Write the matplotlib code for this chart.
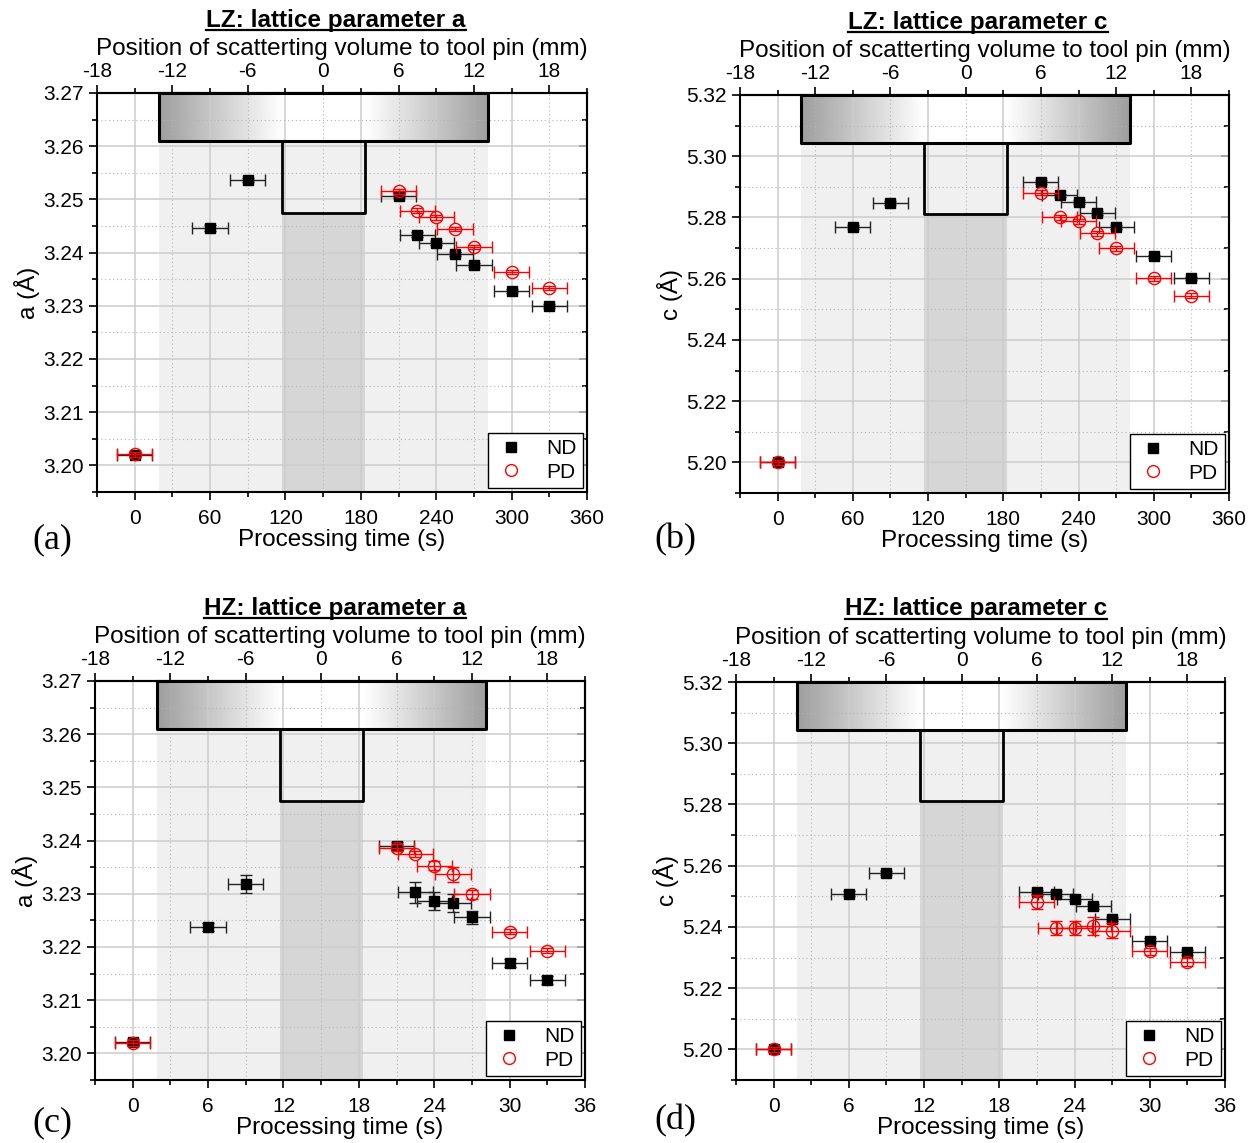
import numpy as np
import matplotlib.pyplot as plt
from matplotlib.lines import Line2D
from matplotlib.ticker import MultipleLocator, FixedLocator, FormatStrFormatter

plt.rcParams['font.family'] = ['Liberation Sans', 'DejaVu Sans']
plt.rcParams['axes.unicode_minus'] = False

# ---- data ----
t_lz_nd = [0, 60, 90, 210, 225, 240, 255, 270, 300, 330]
t_lz_pd = [0, 210, 225, 240, 255, 270, 300, 330]
a_lz_nd = [3.2020, 3.2446, 3.2536, 3.2506, 3.2434, 3.2418, 3.2398, 3.2376, 3.2328, 3.2299]
a_lz_pd = [3.2021, 3.2515, 3.2479, 3.2466, 3.2444, 3.2411, 3.2364, 3.2334]
a_lz_nd_err = [0.0005, 0.0006, 0.0004, 0.0004, 0.0004, 0.0004, 0.0004, 0.0004, 0.0004, 0.0004]
a_lz_pd_err = [0.0005, 0.0004, 0.0004, 0.0004, 0.0004, 0.0004, 0.0004, 0.0004]
c_lz_nd = [5.2000, 5.2769, 5.2848, 5.2915, 5.2872, 5.2850, 5.2814, 5.2769, 5.2673, 5.2601]
c_lz_pd = [5.2000, 5.2881, 5.2801, 5.2787, 5.2749, 5.2700, 5.2602, 5.2545]
c_lz_nd_err = [0.0006] * 10
c_lz_pd_err = [0.0008] * 8

t_hz_nd = [0, 6, 9, 21, 22.5, 24, 25.5, 27, 30, 33]
t_hz_pd = [0, 21, 22.5, 24, 25.5, 27, 30, 33]
a_hz_nd = [3.2022, 3.2238, 3.2319, 3.2390, 3.2303, 3.2286, 3.2282, 3.2256, 3.2170, 3.2138]
a_hz_pd = [3.2020, 3.2387, 3.2375, 3.2353, 3.2337, 3.2299, 3.2229, 3.2193]
a_hz_nd_err = [0.0006, 0.0007, 0.0017, 0.0008, 0.0020, 0.0017, 0.0017, 0.0012, 0.0007, 0.0007]
a_hz_pd_err = [0.0006, 0.0006, 0.0006, 0.0008, 0.0014, 0.0008, 0.0005, 0.0005]
c_hz_nd = [5.2000, 5.2508, 5.2576, 5.2514, 5.2508, 5.2492, 5.2467, 5.2426, 5.2355, 5.2317]
c_hz_pd = [5.2000, 5.2481, 5.2396, 5.2396, 5.2402, 5.2388, 5.2320, 5.2285]
c_hz_nd_err = [0.0008] * 10
c_hz_pd_err = [0.0008, 0.0024, 0.0024, 0.0024, 0.0030, 0.0024, 0.0012, 0.0012]

mm_ticks = [-18, -12, -6, 0, 6, 12, 18]

# tool geometry in mm (relative to tool pin centre)
shoulder_r = 13.1
pin_r = 3.3

W, H = 1256, 1143
fig = plt.figure(figsize=(W / 100, H / 100), dpi=100)

TICK_FS = 15
LABEL_FS = 17.5


def px_rect(l, t, r, b):
    return [l / W, 1 - b / H, (r - l) / W, (b - t) / H]


def panel(rect, t_nd, y_nd, e_nd, t_pd, y_pd, e_pd, scale, xerr, xmajor,
          ylim, ymajor, ylabel, title, title_xy, letter, letter_xy):
    ax = fig.add_axes(px_rect(*rect))
    to_mm = lambda t: np.asarray(t) / scale - 15
    to_t = lambda m: (np.asarray(m) + 15) * scale

    s0, s1 = to_t(-shoulder_r), to_t(shoulder_r)
    p0, p1 = to_t(-pin_r), to_t(pin_r)
    sh_y, pin_y = 0.88, 0.70

    # background shading of the tool
    ax.axvspan(s0, s1, color='#f0f0f0', lw=0, zorder=0)
    ax.axvspan(p0, p1, ymin=0, ymax=pin_y, color='#d6d6d6', lw=0, zorder=0.1)
    xs = np.linspace(-shoulder_r, shoulder_r, 400)
    g = np.clip((np.abs(xs) - pin_r) / (shoulder_r - pin_r), 0, 1)
    vals = 1 - 0.38 * g
    img = np.dstack([vals, vals, vals])
    ax.imshow(img, extent=(s0, s1, sh_y, 1), aspect='auto',
              transform=ax.get_xaxis_transform(), zorder=0.2, interpolation='bilinear')
    tr = ax.get_xaxis_transform()
    ax.plot([s0, s0, s1, s1, s0], [1, sh_y, sh_y, 1, 1], color='k', lw=2.2,
            transform=tr, zorder=2, clip_on=False)
    ax.plot([p0, p0, p1, p1], [sh_y, pin_y, pin_y, sh_y], color='k', lw=2.0,
            transform=tr, zorder=2, clip_on=False)

    # data
    ax.errorbar(t_nd, y_nd, xerr=xerr, yerr=e_nd, fmt='s', color='black', ms=7.8,
                ecolor='#222222', elinewidth=1.0, capsize=4, capthick=1.0, zorder=3)
    ax.errorbar(t_pd, y_pd, xerr=xerr, yerr=e_pd, fmt='o', mfc='none', mec='red',
                mew=1.0, ms=8.8, ecolor='red', elinewidth=1.0, capsize=4,
                capthick=1.0, zorder=4)

    ax.set_xlim(to_t(-18), to_t(21))
    ax.set_ylim(*ylim)
    ax.xaxis.set_major_locator(MultipleLocator(xmajor))
    ax.xaxis.set_minor_locator(MultipleLocator(xmajor / 2))
    ax.yaxis.set_major_locator(MultipleLocator(ymajor))
    ax.yaxis.set_minor_locator(MultipleLocator(ymajor / 2))
    ax.yaxis.set_major_formatter(FormatStrFormatter('%.2f'))
    ax.set_axisbelow(True)
    ax.grid(which='major', color='#cccccc', lw=1.1, ls='-')
    ax.grid(which='minor', color='#b4b4b4', lw=0.8, ls=(0, (1, 2.5)))
    ax.tick_params(which='both', direction='out', top=False, right=False,
                   labelsize=TICK_FS, width=1.2)
    ax.tick_params(which='major', length=6)
    ax.tick_params(which='minor', length=3.5)
    ax.tick_params(axis='x', which='major', pad=6)
    for sp in ax.spines.values():
        sp.set_linewidth(1.5)
    ax.set_xlabel('Processing time (s)', fontsize=LABEL_FS, labelpad=1)
    ax.set_ylabel(ylabel, fontsize=LABEL_FS, labelpad=2)

    top = ax.secondary_xaxis('top', functions=(to_mm, to_t))
    top.xaxis.set_major_locator(FixedLocator(mm_ticks))
    top.xaxis.set_minor_locator(FixedLocator([m + 3 for m in mm_ticks]))
    top.tick_params(which='both', direction='out', labelsize=TICK_FS, width=1.2)
    top.tick_params(which='major', length=6, pad=2.5)
    top.tick_params(which='minor', length=3.5)
    top.spines['top'].set_linewidth(1.5)
    top.set_xlabel('Position of scatterting volume to tool pin (mm)',
                   fontsize=LABEL_FS, labelpad=5)

    right = ax.secondary_yaxis('right')
    right.yaxis.set_major_locator(MultipleLocator(ymajor))
    right.yaxis.set_minor_locator(MultipleLocator(ymajor / 2))
    right.tick_params(which='both', direction='in', labelright=False, width=1.2)
    right.tick_params(which='major', length=6)
    right.tick_params(which='minor', length=3.5)
    right.spines['right'].set_linewidth(1.5)

    handles = [Line2D([], [], ls='none', marker='s', color='black', ms=7),
               Line2D([], [], ls='none', marker='o', mfc='none', mec='red', ms=8.5)]
    leg = ax.legend(handles, ['ND', 'PD'], loc='lower right', fontsize=15,
                    frameon=True, fancybox=False, framealpha=1, edgecolor='black',
                    borderaxespad=0.2, handletextpad=0.9, borderpad=0.3,
                    labelspacing=0.2, handlelength=1.6)
    leg.get_frame().set_linewidth(1.0)
    leg.set_zorder(5)

    t = fig.text(title_xy[0] / W, 1 - title_xy[1] / H, title, fontsize=LABEL_FS,
                 fontweight='bold', ha='center', va='center')
    fig.text(letter_xy[0] / W, 1 - letter_xy[1] / H, letter, fontsize=26,
             family=['Liberation Serif', 'DejaVu Serif'], ha='center', va='center')
    return t


titles = []
titles.append(panel((97, 93, 587, 492), t_lz_nd, a_lz_nd, a_lz_nd_err, t_lz_pd, a_lz_pd,
                    a_lz_pd_err, 10, 14, 60, (3.195, 3.27), 0.01, 'a (Å)',
                    'LZ: lattice parameter a', (336, 20), '(a)', (52, 540)))
titles.append(panel((740, 95, 1229, 493), t_lz_nd, c_lz_nd, c_lz_nd_err, t_lz_pd, c_lz_pd,
                    c_lz_pd_err, 10, 14, 60, (5.19, 5.32), 0.02, 'c (Å)',
                    'LZ: lattice parameter c', (978, 22), '(b)', (675, 540)))
titles.append(panel((95, 681, 585, 1080), t_hz_nd, a_hz_nd, a_hz_nd_err, t_hz_pd, a_hz_pd,
                    a_hz_pd_err, 1, 1.4, 6, (3.195, 3.27), 0.01, 'a (Å)',
                    'HZ: lattice parameter a', (335, 608), '(c)', (52, 1123)))
titles.append(panel((736, 682, 1225, 1080), t_hz_nd, c_hz_nd, c_hz_nd_err, t_hz_pd, c_hz_pd,
                    c_hz_pd_err, 1, 1.4, 6, (5.19, 5.32), 0.02, 'c (Å)',
                    'HZ: lattice parameter c', (976, 609), '(d)', (675, 1121)))

# underline the titles
fig.canvas.draw()
for t in titles:
    bb = t.get_window_extent()
    y = (bb.y0 + 2) / H
    fig.add_artist(Line2D([bb.x0 / W, bb.x1 / W], [y, y], transform=fig.transFigure,
                          color='black', lw=1.6))

fig.savefig('out.png', dpi=100)
